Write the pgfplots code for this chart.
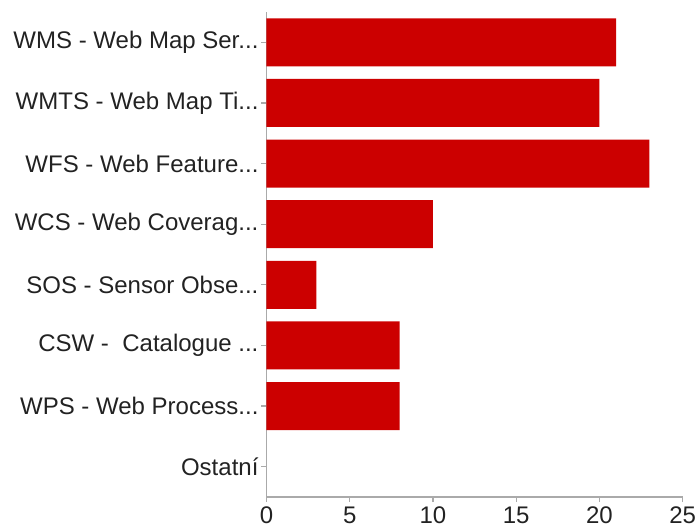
\documentclass[border=0pt]{standalone}
\usepackage{fontspec}
\setmainfont{Liberation Sans}
\usepackage{pgfplots}
\pgfplotsset{compat=1.18}
\definecolor{barred}{RGB}{204,0,0}
\definecolor{axgray}{RGB}{170,170,170}
\definecolor{txt}{RGB}{34,34,34}
\newcommand{\ddd}{{.}{.}{.}}
\begin{document}
\begin{tikzpicture}
\path[use as bounding box] (-133.25pt,-15.5pt) rectangle (216.75pt,248.5pt);
\begin{axis}[
  at={(0,0)}, anchor=south west,
  scale only axis,
  width=208.1pt, height=242.5pt,
  xbar, bar width=0.79,
  xmin=0, xmax=25,
  xtick={0,5,10,15,20,25},
  ymin=-0.5, ymax=7.5,
  y dir=reverse,
  ytick={0,1,2,3,4,5,6,7},
  yticklabels={{WMS - Web Map Ser\ddd},{WMTS - Web Map Ti\ddd},{WFS - Web Feature\ddd},{WCS - Web Coverag\ddd},{SOS - Sensor Obse\ddd},{CSW - \ Catalogue \ddd},{WPS - Web Process\ddd},{Ostatní}},
  axis x line*=bottom,
  axis y line*=left,
  axis line style={axgray, line width=0.6pt},
  tick style={axgray, line width=0.6pt},
  major tick length=2.5pt,
  tick align=outside,
  ticklabel style={font=\fontsize{12}{14}\selectfont, text=txt},
  /pgf/number format/assume math mode=true,
  xticklabel style={yshift=1pt},
  yticklabel style={xshift=2pt},
  clip=false,
]
\addplot[draw=none, fill=barred] coordinates {
(21,0) (20,1) (23,2) (10,3) (3,4) (8,5) (8,6)
};
\end{axis}
\end{tikzpicture}
\end{document}
